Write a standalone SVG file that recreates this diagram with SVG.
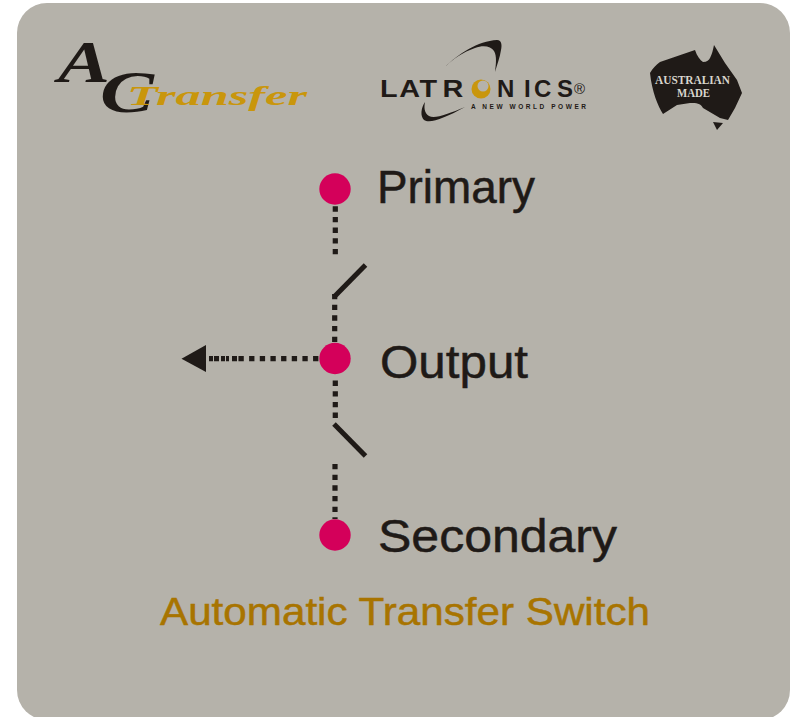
<svg xmlns="http://www.w3.org/2000/svg" width="798" height="717" viewBox="0 0 798 717">
<style>
.sans{font-family:"Liberation Sans",Arial,sans-serif}
.serif{font-family:"Liberation Serif","Times New Roman",serif}
.label{font-size:46px;fill:#1f1a17;stroke:#1f1a17;stroke-width:.5}
.dot{fill:#d4005a}
.dash{fill:none;stroke:#1f1a17;stroke-width:5.2;stroke-dasharray:5.33 5.33}
.solid{fill:none;stroke:#1f1a17;stroke-width:5}
.ink{fill:#1f1a17}
.lat{font-size:24px;fill:#1f1a17;font-weight:bold}
.am{font-size:11.5px;font-weight:bold;fill:#d8d5cd}
</style>
<rect width="798" height="717" fill="#ffffff"/>
<rect id="panel" x="17" y="3" width="773" height="717" rx="30" ry="30" fill="#b5b2aa"/>

<g id="logo-ac-transfer">
<text class="serif" x="58" y="82" font-size="60" font-style="italic" font-weight="bold" fill="#1f1a17" textLength="52" lengthAdjust="spacingAndGlyphs">A</text>
<text class="serif" x="100" y="112" font-size="60" font-style="italic" font-weight="bold" fill="#1f1a17" textLength="54" lengthAdjust="spacingAndGlyphs">C</text>
<text class="serif" x="127" y="105" font-size="27" font-style="italic" font-weight="bold" fill="#c9960c" textLength="180" lengthAdjust="spacingAndGlyphs">Transfer</text>
</g>

<g id="logo-latronics">
<path class="ink" d="M445 67C458 54 478 41 497 40C502 40 502 46 501 50C500 57 497 65 495 72C496 64 497 56 494 51C491 46 483 45 475 48C463 52 453 59 445 67Z"/>
<path class="ink" d="M425 102C421 108 420 116 424 120C430 124 445 118 465 107C448 114 435 119 429 116C424 113 424 107 425 102Z"/>
<text class="sans lat" transform="translate(380 97) scale(1.2 1)" x="0 16 33 52">LATR</text>
<circle cx="481" cy="89" r="9.500" fill="#c9960c"/>
<circle cx="483" cy="86" r="5.500" fill="#b5b2aa"/>
<text class="sans lat" x="497 524 534 557" y="97">NICS</text>
<text class="sans" x="574" y="94" font-size="15" fill="#1f1a17">®</text>
<text class="sans" x="471" y="109" font-size="6.500" font-weight="bold" fill="#1f1a17" textLength="115" lengthAdjust="spacing">A NEW WORLD POWER</text>
</g>

<g id="logo-australian-made">
<path class="ink" d="M714 45L725 63L737 80L742 93L735 108L728 120L720 118L703 108C700 103 697 103 690 103L677 105L663 114C658 106 652 92 650 73C653 68 656 65 660 62L695 50C697 56 700 60 703 62C707 62 709 60 710 58C712 54 713 50 714 45Z"/>
<path class="ink" d="M713 122L723 123L717 130Z"/>
<text class="serif am" x="655" y="84.300" textLength="75" lengthAdjust="spacingAndGlyphs">AUSTRALIAN</text>
<text class="serif am" x="677" y="97" textLength="33" lengthAdjust="spacingAndGlyphs">MADE</text>
</g>

<g id="connectors">
<path class="dash" d="M335.300 206.300V255"/>
<path class="dash" d="M334.700 294V342"/>
<path class="dash" d="M335.300 380.600V421"/>
<path class="dash" d="M335 464V519"/>
<path class="dash" d="M318.400 358.700H236"/>
<path class="solid" d="M334 297L365.500 265"/>
<path class="solid" d="M334 424L365.500 456"/>
<path fill="none" stroke="#1f1a17" stroke-width="5.200" stroke-dasharray="4 1 5 2 4 1 3 3 5 1" d="M209 358.700H238"/>
<path class="ink" d="M181.500 358.700L206 345V372Z"/>
</g>

<g id="node-primary">
<circle class="dot" cx="335" cy="189" r="15.700"/>
<text class="sans label" x="377" y="203" textLength="158" lengthAdjust="spacingAndGlyphs">Primary</text>
</g>
<g id="node-output">
<circle class="dot" cx="335" cy="358.500" r="15.700"/>
<text class="sans label" x="380" y="378" textLength="148" lengthAdjust="spacingAndGlyphs">Output</text>
</g>
<g id="node-secondary">
<circle class="dot" cx="335" cy="535" r="15.700"/>
<text class="sans label" x="378" y="552.300" textLength="239" lengthAdjust="spacingAndGlyphs">Secondary</text>
</g>
<text id="title" class="sans" x="160" y="625" font-size="38" fill="#a87400" stroke="#a87400" stroke-width=".5" textLength="490" lengthAdjust="spacingAndGlyphs">Automatic Transfer Switch</text>
</svg>
